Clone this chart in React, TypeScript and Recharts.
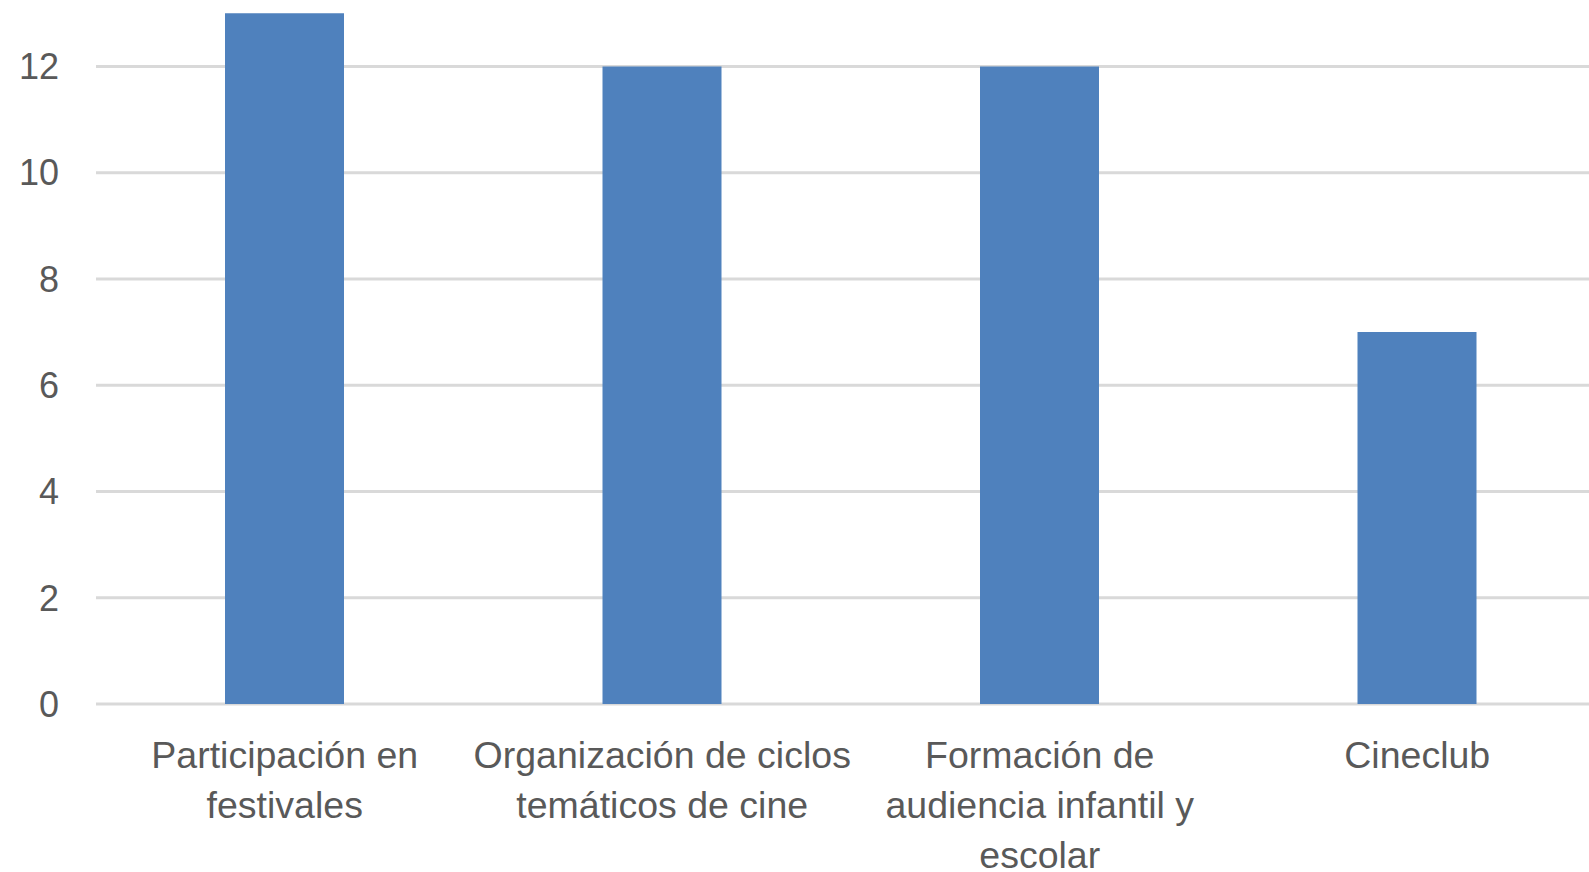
import React from "react"
import { BarChart, Bar, XAxis, YAxis, CartesianGrid } from "recharts"

const categories = [
  "Participación en festivales",
  "Organización de ciclos temáticos de cine",
  "Formación de audiencia infantil y escolar",
  "Cineclub",
]
// how each category label wraps under the axis
const categoryLines = [
  ["Participación en", "festivales"],
  ["Organización de ciclos", "temáticos de cine"],
  ["Formación de", "audiencia infantil y", "escolar"],
  ["Cineclub"],
]
const values = [13, 12, 12, 7]
const yTicks = [0, 2, 4, 6, 8, 10, 12]

const data = categories.map((name, i) => ({ name, value: values[i] }))

const FONT = "'Liberation Sans', Arial, sans-serif"
const TEXT = "#595959"

const CategoryTick = (props: any) => {
  const { x, y, index } = props
  const lines = categoryLines[index] || []
  return (
    <text x={x} y={y} textAnchor="middle" fill={TEXT} fontSize={37.5} fontFamily={FONT}>
      {lines.map((l, i) => (
        <tspan key={i} x={x} y={y + 64 + i * 50}>
          {l}
        </tspan>
      ))}
    </text>
  )
}

export default function App() {
  return (
    <div
      style={{
        position: "absolute",
        left: 0,
        top: 0,
        width: 1589,
        height: 872,
        overflow: "hidden",
        background: "#fff",
      }}
    >
      <BarChart
        width={1610}
        height={872}
        data={data}
        margin={{ top: 0, right: 4, bottom: 0, left: 0 }}
        barSize={119}
      >
        <CartesianGrid
          vertical={false}
          horizontalValues={yTicks}
          stroke="#d9d9d9"
          strokeWidth={3}
        />
        <XAxis
          dataKey="name"
          height={168}
          axisLine={false}
          tickLine={false}
          tickSize={0}
          tickMargin={0}
          interval={0}
          tick={<CategoryTick />}
        />
        <YAxis
          width={96}
          domain={[0, 13.25]}
          ticks={yTicks}
          axisLine={false}
          tickLine={false}
          tickSize={0}
          tickMargin={37}
          allowDataOverflow
          tick={{ fill: TEXT, fontSize: 36, fontFamily: FONT }}
        />
        <Bar dataKey="value" fill="#4f81bd" isAnimationActive={false} />
      </BarChart>
    </div>
  )
}
